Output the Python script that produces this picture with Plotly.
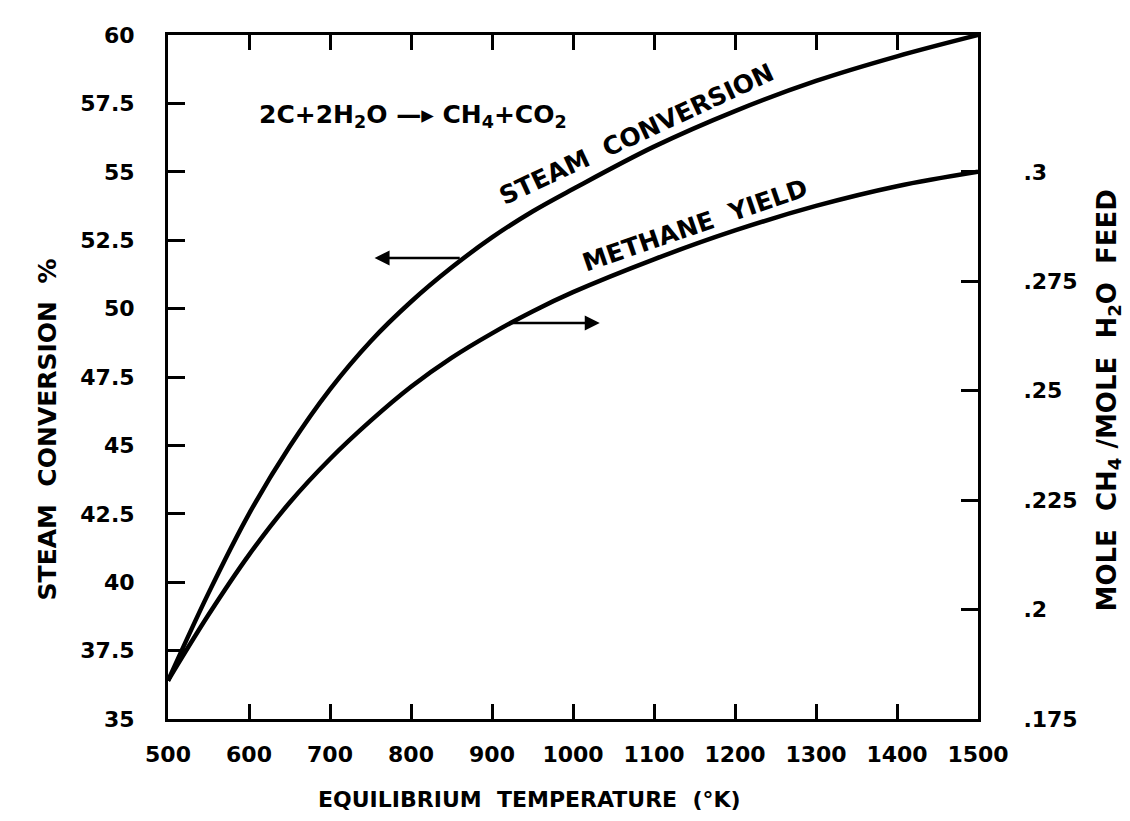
import plotly.graph_objects as go

# ---- data ----
temperature_K = [500, 550, 600, 650, 700, 750, 800, 850, 900, 950, 1000, 1100, 1200, 1300, 1400, 1500]
steam_conversion_pct = [36.4, 39.6, 42.5, 44.95, 47.05, 48.8, 50.25, 51.5, 52.6, 53.55, 54.37,
                        55.92, 57.22, 58.32, 59.22, 60.0]
methane_yield = [0.1838, 0.1988, 0.2125, 0.2244, 0.2344, 0.2431, 0.2509, 0.2575, 0.2631, 0.2681,
                 0.2725, 0.2800, 0.2866, 0.2922, 0.2967, 0.3000]

x_ticks = [500, 600, 700, 800, 900, 1000, 1100, 1200, 1300, 1400, 1500]
left_ticks = [35, 37.5, 40, 42.5, 45, 47.5, 50, 52.5, 55, 57.5, 60]
left_ticktext = ["35", "37.5", "40", "42.5", "45", "47.5", "50", "52.5", "55", "57.5", "60"]
right_ticks = [0.175, 0.2, 0.225, 0.25, 0.275, 0.3]
right_ticktext = [".175", ".2", ".225", ".25", ".275", ".3"]

FONT = "DejaVu Sans"
tickfont = dict(family=FONT, size=22, color="black", weight="bold")

fig = go.Figure()
fig.add_trace(go.Scatter(x=temperature_K, y=steam_conversion_pct, mode="lines",
                         line=dict(color="black", width=4.5, shape="spline"),
                         yaxis="y", showlegend=False, hoverinfo="skip"))
fig.add_trace(go.Scatter(x=temperature_K, y=methane_yield, mode="lines",
                         line=dict(color="black", width=4.5, shape="spline"),
                         yaxis="y2", showlegend=False, hoverinfo="skip"))

axis_common = dict(showgrid=False, zeroline=False, showline=True, linecolor="black",
                   linewidth=3, ticks="inside", tickcolor="black", tickwidth=3,
                   tickfont=tickfont)

fig.update_layout(
    width=1130, height=821,
    margin=dict(l=160, r=160, t=27, b=110),
    paper_bgcolor="white", plot_bgcolor="white",
    xaxis=dict(range=[500, 1500], tickmode="array", tickvals=x_ticks,
               ticktext=[str(v) for v in x_ticks], ticklen=15, mirror="ticks",
               ticklabelstandoff=14, **axis_common),
    yaxis=dict(range=[35, 60], tickmode="array", tickvals=left_ticks,
               ticktext=left_ticktext, ticklen=17, ticklabelstandoff=26,
               **axis_common),
    yaxis2=dict(range=[0.175, 0.33125], overlaying="y", side="right",
                tickmode="array", tickvals=right_ticks, ticktext=right_ticktext,
                ticklen=17, ticklabelstandoff=38, **axis_common),
)

lbl = dict(family=FONT, size=24, color="black", weight="bold")

ann = [
    dict(x=802, y=57.04, xref="x", yref="y",
         text="2C+2H<sub>2</sub>O \u2014\u25b8 CH<sub>4</sub>+CO<sub>2</sub>",
         showarrow=False, font=dict(lbl, size=25)),
    dict(x=1078, y=56.35, xref="x", yref="y", text="STEAM  CONVERSION",
         textangle=-25, showarrow=False, font=dict(lbl, size=25)),
    dict(x=1150, y=53.05, xref="x", yref="y", text="METHANE  YIELD",
         textangle=-19, showarrow=False, font=dict(lbl, size=25)),
    # arrows
    dict(x=755, y=51.85, ax=862, ay=51.85, xref="x", yref="y", axref="x", ayref="y",
         text="", showarrow=True, arrowhead=2, arrowsize=1.2, arrowwidth=2.5,
         arrowcolor="black"),
    dict(x=1033, y=49.47, ax=923, ay=49.47, xref="x", yref="y", axref="x", ayref="y",
         text="", showarrow=True, arrowhead=2, arrowsize=1.2, arrowwidth=2.5,
         arrowcolor="black"),
    # axis titles
    dict(x=-0.168, y=0.424, xref="paper", yref="paper", text="STEAM  CONVERSION  %",
         textangle=-90, showarrow=False, font=dict(lbl, size=25)),
    dict(x=1.184, y=0.465, xref="paper", yref="paper",
         text="MOLE  CH<sub>4</sub> /MOLE  H<sub>2</sub>O  FEED",
         textangle=-90, showarrow=False, font=dict(lbl, size=26)),
    dict(x=0.446, y=-0.139, xref="paper", yref="paper",
         text="EQUILIBRIUM  TEMPERATURE  (\u00b0K)",
         showarrow=False, font=dict(lbl, size=22)),
]
fig.update_layout(annotations=ann)

fig.write_html("out.html")
